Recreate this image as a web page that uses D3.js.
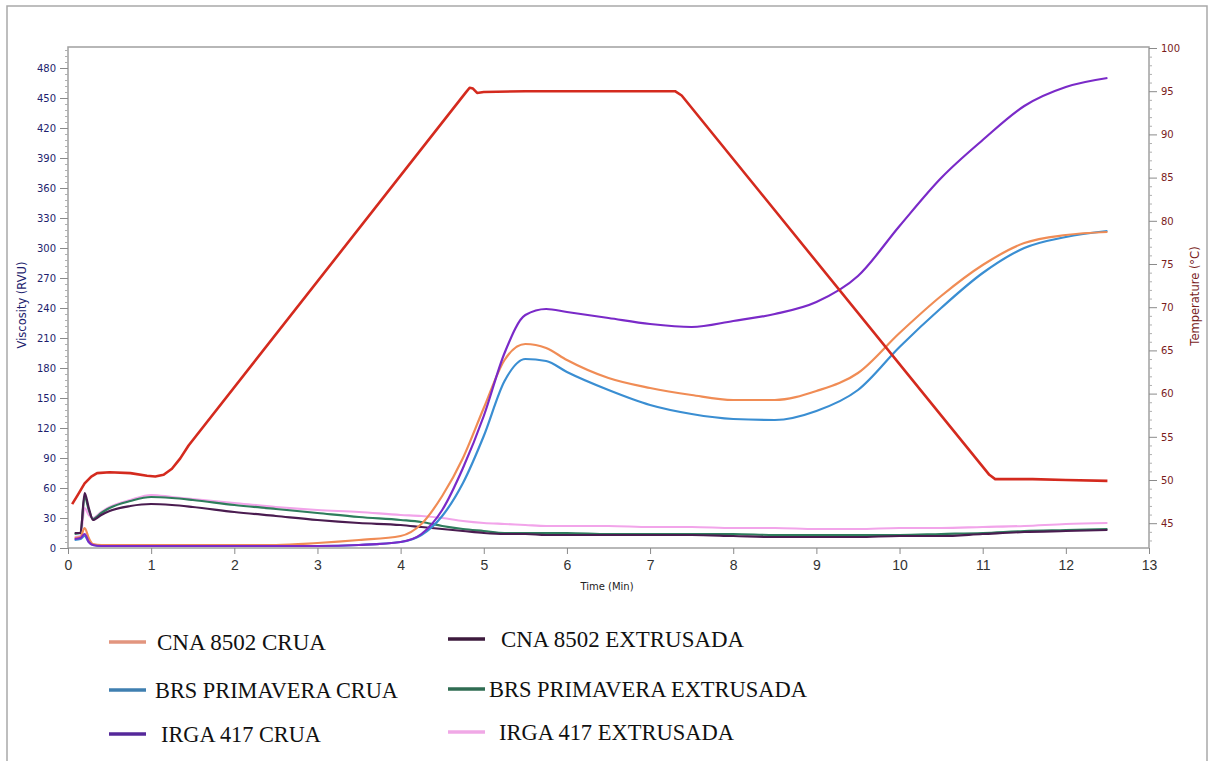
<!DOCTYPE html>
<html>
<head>
<meta charset="utf-8">
<script src="https://cdn.jsdelivr.net/npm/d3@7"></script>
<style>
  html, body { margin: 0; padding: 0; background: #fff; }
  svg { display: block; }
</style>
</head>
<body>
<svg id="chart" width="1210" height="761"></svg>
<script>
// ---------------- DATA ----------------
const timeMin = [0.08, 0.15, 0.2, 0.25, 0.3, 0.4, 0.5, 0.75, 1.0, 1.25, 1.5, 2.0, 2.5, 3.0, 3.5, 4.0, 4.25, 4.5, 4.75, 5.0, 5.25, 5.5, 5.75, 6.0, 6.5, 7.0, 7.5, 8.0, 8.5, 9.0, 9.5, 10.0, 10.5, 11.0, 11.5, 12.0, 12.5];

const cnaCrua        = [10, 11, 20, 10, 4, 3, 3, 3, 3, 3, 3, 3, 3, 5, 8, 12, 24, 52, 90, 140, 188, 204, 200, 188, 170, 160, 153, 148, 148, 157, 175, 215, 252, 283, 305, 313, 316];
const brsCrua        = [8, 9, 12, 6, 3, 2, 2, 2, 2, 2, 2, 2, 2, 2, 3, 6, 13, 32, 65, 112, 167, 189, 187, 176, 158, 143, 134, 129, 128, 137, 158, 201, 240, 275, 300, 311, 317];
const irgaCrua       = [9, 10, 14, 6, 3, 2, 2, 2, 2, 2, 2, 2, 2, 2, 3, 6, 14, 38, 80, 132, 195, 233, 239, 236, 230, 224, 221, 227, 234, 246, 272, 322, 370, 408, 442, 461, 470];
const cnaExtrusada   = [15, 15, 55, 40, 28, 33, 37, 42, 44, 43, 41, 36, 32, 28, 25, 23, 21, 19, 17, 15, 14, 14, 13, 13, 13, 13, 13, 12, 11, 11, 11, 12, 12, 14, 16, 17, 18];
const brsExtrusada   = [14, 15, 52, 38, 29, 35, 40, 47, 51, 50, 48, 43, 39, 35, 31, 28, 26, 22, 19, 17, 15, 15, 15, 15, 14, 14, 14, 14, 13, 13, 13, 13, 14, 15, 17, 18, 19];
const irgaExtrusada  = [11, 12, 40, 33, 30, 36, 41, 48, 53, 51, 49, 45, 41, 38, 36, 33, 32, 30, 27, 25, 24, 23, 22, 22, 22, 21, 21, 20, 20, 19, 19, 20, 20, 21, 22, 24, 25];

const tempTime = [0.05, 0.12, 0.2, 0.28, 0.35, 0.5, 0.75, 0.95, 1.05, 1.15, 1.25, 1.35, 1.45, 4.78, 4.83, 4.87, 4.92, 5.0, 5.5, 6.5, 7.3, 7.38, 11.08, 11.15, 11.25, 11.6, 12.0, 12.5];
const tempC    = [47.2, 48.3, 49.6, 50.4, 50.8, 50.9, 50.8, 50.5, 50.4, 50.6, 51.3, 52.5, 54.0, 94.8, 95.4, 95.3, 94.8, 94.9, 95.0, 95.0, 95.0, 94.5, 50.6, 50.1, 50.1, 50.1, 50.0, 49.9];

const seriesNames = ["CNA 8502 CRUA", "BRS PRIMAVERA CRUA", "IRGA 417 CRUA",
                     "CNA 8502 EXTRUSADA", "BRS PRIMAVERA EXTRUSADA", "IRGA 417 EXTRUSADA"];
const seriesValues = [cnaCrua, brsCrua, irgaCrua, cnaExtrusada, brsExtrusada, irgaExtrusada];

const xTickValues = [0,1,2,3,4,5,6,7,8,9,10,11,12,13];
const leftTickValues = [0,30,60,90,120,150,180,210,240,270,300,330,360,390,420,450,480];
const rightTickValues = [45,50,55,60,65,70,75,80,85,90,95,100];

// ---------------- STYLE / LAYOUT ----------------
const colors = ["#f08c55", "#3a8ed2", "#7a2ac8", "#4a1c50", "#2e7d5c", "#f2a4ea"];
const drawOrder = [5, 4, 3, 1, 0, 2];
const legendLineColors = ["#e2957e", "#3f7fb0", "#55289a", "#3d1a3d", "#2f6c52", "#f0a8e6"];
const legendLayout = [
  {lx: 109, ly: 642, tx: 157, tw: 169},
  {lx: 109, ly: 690, tx: 155, tw: 243},
  {lx: 109, ly: 734, tx: 161, tw: 160},
  {lx: 448, ly: 639, tx: 501, tw: 243},
  {lx: 448, ly: 689, tx: 489, tw: 318},
  {lx: 448, ly: 732, tx: 499, tw: 235}
];

const L = 68, R = 1149, T = 48, B = 548;
const svg = d3.select("#chart");

svg.append("rect").attr("x", 7).attr("y", 6).attr("width", 1200).attr("height", 780)
  .attr("fill", "none").attr("stroke", "#a9a9a9").attr("stroke-width", 1.5);

const x = d3.scaleLinear().domain([0, 13]).range([L, R]);
const y = d3.scaleLinear().domain([0, 500]).range([B, T]);
const yT = d3.scaleLinear().domain([42.13, 100]).range([B, T]);

svg.append("rect").attr("x", L).attr("y", T - 1).attr("width", R - L).attr("height", B - T + 1)
  .attr("fill", "#fff").attr("stroke", "#a0a0a0").attr("stroke-width", 1.5);

function styleAxis(g, color, font, size) {
  g.select(".domain").remove();
  g.selectAll(".tick line").attr("stroke", "#8a8a8a");
  g.selectAll(".tick text").attr("fill", color).attr("font-family", font).attr("font-size", size);
}

const leftMinor = d3.range(0, 501, 6).filter(v => v % 30 !== 0);
svg.append("g").attr("transform", `translate(${L},0)`)
  .call(d3.axisLeft(y).tickValues(leftMinor).tickSize(3).tickFormat(""))
  .call(g => { g.select(".domain").remove(); g.selectAll(".tick line").attr("stroke", "#b0b0b0"); });
svg.append("g").attr("transform", `translate(${L},0)`)
  .call(d3.axisLeft(y).tickValues(leftTickValues).tickSize(8).tickPadding(4))
  .call(g => styleAxis(g, "#1e1e6e", "DejaVu Sans, Verdana, sans-serif", 10));

const rightMinor = d3.range(43, 101, 1).filter(v => v % 5 !== 0);
svg.append("g").attr("transform", `translate(${R},0)`)
  .call(d3.axisRight(yT).tickValues(rightMinor).tickSize(3).tickFormat(""))
  .call(g => { g.select(".domain").remove(); g.selectAll(".tick line").attr("stroke", "#b0b0b0"); });
svg.append("g").attr("transform", `translate(${R},0)`)
  .call(d3.axisRight(yT).tickValues(rightTickValues).tickSize(8).tickPadding(4))
  .call(g => styleAxis(g, "#7a1c1c", "DejaVu Sans, Verdana, sans-serif", 10));

svg.append("g").attr("transform", `translate(0,${B})`)
  .call(d3.axisBottom(x).tickValues(xTickValues).tickSize(6).tickPadding(6))
  .call(g => styleAxis(g, "#333", "Liberation Sans Narrow, Arial Narrow, Liberation Sans, sans-serif", 14));

svg.append("text").attr("transform", "translate(26,305) rotate(-90)")
  .attr("text-anchor", "middle").attr("font-family", "DejaVu Sans, Verdana, sans-serif")
  .attr("font-size", 11.5).attr("fill", "#1e1e6e").text("Viscosity (RVU)");
svg.append("text").attr("transform", "translate(1199,296) rotate(-90)")
  .attr("text-anchor", "middle").attr("font-family", "DejaVu Sans, Verdana, sans-serif")
  .attr("font-size", 11.5).attr("fill", "#7a1c1c").text("Temperature (°C)");
svg.append("text").attr("x", 607).attr("y", 590)
  .attr("text-anchor", "middle").attr("font-family", "DejaVu Sans, Verdana, sans-serif")
  .attr("font-size", 10).attr("fill", "#222").text("Time  (Min)");

svg.append("clipPath").attr("id", "plotclip").append("rect")
  .attr("x", L).attr("y", T).attr("width", R - L).attr("height", B - T);
const plot = svg.append("g").attr("clip-path", "url(#plotclip)");

const line = d3.line().x(d => x(d[0])).y(d => y(d[1])).curve(d3.curveMonotoneX);
drawOrder.forEach(i => {
  const pts = timeMin.map((t, k) => [t, seriesValues[i][k]]);
  plot.append("path").attr("d", line(pts)).attr("fill", "none")
    .attr("stroke", colors[i]).attr("stroke-width", 2.2).attr("stroke-linejoin", "round");
});

const tline = d3.line().x(d => x(d[0])).y(d => yT(d[1])).curve(d3.curveLinear);
plot.append("path").attr("d", tline(tempTime.map((t, k) => [t, tempC[k]])))
  .attr("fill", "none").attr("stroke", "#d42a1e").attr("stroke-width", 2.6).attr("stroke-linejoin", "round");

seriesNames.forEach((name, i) => {
  const p = legendLayout[i];
  svg.append("line").attr("x1", p.lx).attr("x2", p.lx + 37).attr("y1", p.ly).attr("y2", p.ly)
    .attr("stroke", legendLineColors[i]).attr("stroke-width", 3.5);
  svg.append("text").attr("x", p.tx).attr("y", p.ly + 8)
    .attr("font-family", "Liberation Serif, Times New Roman, serif").attr("font-size", 24)
    .attr("fill", "#111").attr("textLength", p.tw).attr("lengthAdjust", "spacingAndGlyphs")
    .text(name);
});
</script>
</body>
</html>
